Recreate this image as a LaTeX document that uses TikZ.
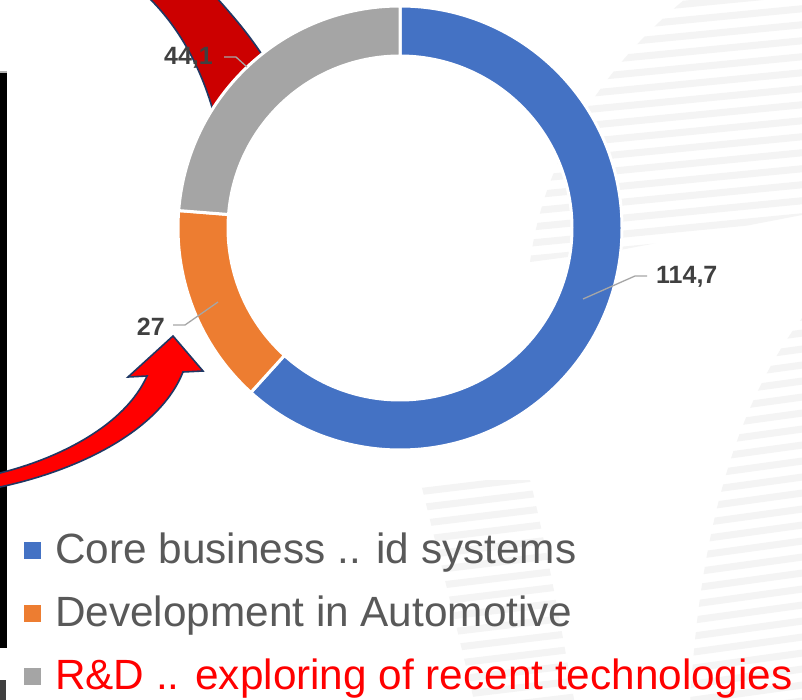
\documentclass[tikz,border=0pt]{standalone}
\usepackage{fontspec}
\setmainfont{Liberation Sans}
\definecolor{cblue}{HTML}{4472C4}
\definecolor{corange}{HTML}{ED7D31}
\definecolor{cgray}{HTML}{A5A5A5}
\definecolor{ctext}{HTML}{595959}
\definecolor{clabel}{HTML}{404040}
\definecolor{cnavy}{HTML}{1F3864}
\definecolor{cdarkred}{HTML}{CC0000}
\definecolor{cbright}{HTML}{FF0000}
\definecolor{cstripe}{HTML}{F4F4F4}
\definecolor{cleader}{HTML}{A6A6A6}
\tikzset{
  slice/.style={draw=white, line width=3pt},
  arrowshape/.style={draw=cnavy, line width=1.6pt, line join=miter},
  leader/.style={draw=cleader, line width=1.3pt},
  datalabel/.style={font=\bfseries\fontsize{25}{25}\selectfont, text=clabel, inner sep=0pt},
  legendtext/.style={font=\fontsize{42.3}{42.3}\selectfont, text=ctext, anchor=base west, inner sep=0pt},
  legendbox/.style={minimum size=17pt, inner sep=0pt, anchor=center},
  stripe/.style={draw=cstripe, line width=7pt},
}
\begin{document}
\begin{tikzpicture}[x=1pt,y=-1pt]
\useasboundingbox (0,0) rectangle (802,700);
\fill[white] (0,0) rectangle (802,700);

% faint background stripes
\begin{scope}
  \clip (690,-5) .. controls (610,60) and (545,150) .. (530,262) -- (620,250) -- (802,215) -- (802,-5) -- cycle;
  \foreach \yy in {0,16,...,300} \draw[stripe] (500,\yy+22) -- (810,\yy-8);
\end{scope}
\begin{scope}
  \clip (802,318) .. controls (740,400) and (700,520) .. (690,705) -- (810,705) -- (810,318) -- cycle;
  \foreach \yy in {300,316,...,760} \draw[stripe] (650,\yy+22) -- (810,\yy);
\end{scope}
\begin{scope}
  \clip (420,480) .. controls (440,560) and (460,640) .. (475,705) -- (575,705) .. controls (560,620) and (545,540) .. (530,480) -- cycle;
  \foreach \yy in {460,476,...,740} \draw[stripe] (400,\yy+18) -- (600,\yy-6);
\end{scope}

% left dark bar
\fill[black] (0,73) rectangle (7,648);
\fill[black!30] (0,71.5) rectangle (7,73);
\fill[black!75] (0,680) rectangle (6,700);

% upper red band (behind the ring)
\path[fill=cdarkred, arrowshape] (148,-3) .. controls (182,30) and (205,75) .. (217,126)
  -- (268,64) .. controls (250,35) and (232,15) .. (216,-3) -- cycle;

% lower red arrow
\path[fill=cbright, arrowshape] (-5,475) -- (0,473) .. controls (60,458) and (125,425) .. (147,376)
  -- (128,377) -- (173,336) -- (203,371) -- (183,372)
  .. controls (160,430) and (80,470) .. (0,487) -- (-5,489) -- cycle;

% donut
\begin{scope}[shift={(400,228)}, yscale=-1]
  \path[fill=cblue, slice] (90:222) arc[start angle=90, end angle=-132.2, radius=222]
    -- (-132.2:172) arc[start angle=-132.2, end angle=90, radius=172] -- cycle;
  \path[fill=corange, slice] (-132.2:222) arc[start angle=-132.2, end angle=-184.5, radius=222]
    -- (-184.5:172) arc[start angle=-184.5, end angle=-132.2, radius=172] -- cycle;
  \path[fill=cgray, slice] (-184.5:222) arc[start angle=-184.5, end angle=-270, radius=222]
    -- (-270:172) arc[start angle=-270, end angle=-184.5, radius=172] -- cycle;
\end{scope}

% data labels and leader lines
\node[datalabel, anchor=west] (l1) at (656,277) {114,7};
\node[datalabel, anchor=east] (l2) at (165,327) {27};
\node[datalabel, anchor=east] (l3) at (213,58) {44,1};
\coordinate (p1) at (583,299);
\coordinate (q1) at (635,276);
\coordinate (p2) at (218,302);
\coordinate (q2) at (185,325);
\coordinate (p3) at (247,67);
\coordinate (q3) at (236,57);
\draw[leader] (p1) -- (q1) -- ([xshift=-9pt]l1.west |- q1);
\draw[leader] (p2) -- (q2) -- ([xshift=8pt]l2.east |- q2);
\draw[leader] (p3) -- (q3) -- ([xshift=11pt]l3.east |- q3);

% legend
\node[legendbox, fill=cblue] (k1) at (32.5,550.5) {};
\node[legendbox, fill=corange] (k2) at (32.5,613.5) {};
\node[legendbox, fill=cgray] (k3) at (32.5,676.5) {};
\node[legendtext] (t1) at (55,563) {Core business .. id systems};
\node[legendtext] (t2) at (55,626) {Development in Automotive};
\node[legendtext, text=cbright] (t3) at (55,689) {R\&D .. exploring of recent technologies};
\end{tikzpicture}
\end{document}
